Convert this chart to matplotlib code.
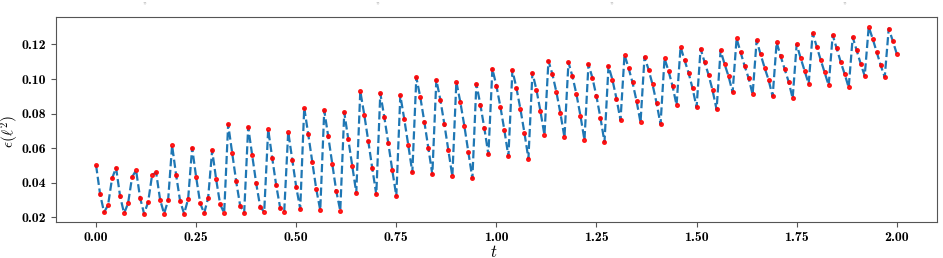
import numpy as np
import matplotlib
matplotlib.use("Agg")
import matplotlib.pyplot as plt

plt.rcParams['mathtext.fontset'] = 'cm'
plt.rcParams['font.family'] = 'cmb10'
plt.rcParams['axes.formatter.use_mathtext'] = True

# time steps (dt = 0.01) and the measured error
t = np.arange(201) * 0.01
eps = [
    0.0502, 0.0336, 0.0229, 0.0271, 0.0425, 0.0487, 0.0323, 0.0223, 0.0281, 0.0433,
    0.0472, 0.0313, 0.0221, 0.0287, 0.0445, 0.0460, 0.0302, 0.0221, 0.0298, 0.0616,
    0.0445, 0.0294, 0.0221, 0.0306, 0.0602, 0.0433, 0.0283, 0.0223, 0.0313, 0.0587,
    0.0420, 0.0275, 0.0225, 0.0738, 0.0573, 0.0408, 0.0267, 0.0227, 0.0722, 0.0558,
    0.0397, 0.0261, 0.0231, 0.0709, 0.0544, 0.0385, 0.0254, 0.0232, 0.0695, 0.0533,
    0.0375, 0.0250, 0.0834, 0.0681, 0.0521, 0.0364, 0.0242, 0.0818, 0.0668, 0.0508,
    0.0352, 0.0238, 0.0807, 0.0654, 0.0497, 0.0342, 0.0930, 0.0793, 0.0641, 0.0483,
    0.0333, 0.0917, 0.0780, 0.0629, 0.0472, 0.0323, 0.0905, 0.0766, 0.0616, 0.0460,
    0.1009, 0.0894, 0.0753, 0.0602, 0.0449, 0.0995, 0.0880, 0.0739, 0.0589, 0.0437,
    0.0984, 0.0865, 0.0728, 0.0577, 0.0425, 0.0972, 0.0851, 0.0714, 0.0564, 0.1059,
    0.0961, 0.0839, 0.0703, 0.0553, 0.1050, 0.0949, 0.0826, 0.0689, 0.0539, 0.1036,
    0.0938, 0.0814, 0.0676, 0.1105, 0.1027, 0.0923, 0.0801, 0.0662, 0.1096, 0.1015,
    0.0911, 0.0787, 0.0647, 0.1086, 0.1005, 0.0899, 0.0774, 0.0635, 0.1075, 0.0994,
    0.0886, 0.0762, 0.1140, 0.1065, 0.0980, 0.0874, 0.0749, 0.1128, 0.1055, 0.0969,
    0.0862, 0.0738, 0.1119, 0.1046, 0.0959, 0.0849, 0.1186, 0.1109, 0.1036, 0.0946,
    0.0836, 0.1175, 0.1098, 0.1024, 0.0934, 0.0824, 0.1165, 0.1086, 0.1015, 0.0923,
    0.1235, 0.1154, 0.1076, 0.1005, 0.0911, 0.1223, 0.1142, 0.1065, 0.0994, 0.0899,
    0.1212, 0.1132, 0.1057, 0.0984, 0.0888, 0.1200, 0.1121, 0.1047, 0.0972, 0.1265,
    0.1188, 0.1111, 0.1038, 0.0963, 0.1254, 0.1177, 0.1099, 0.1028, 0.0951, 0.1242,
    0.1165, 0.1088, 0.1018, 0.1302, 0.1232, 0.1155, 0.1079, 0.1011, 0.1292, 0.1221,
    0.1146,
]
xticks = [0.00, 0.25, 0.50, 0.75, 1.00, 1.25, 1.50, 1.75, 2.00]
yticks = [0.02, 0.04, 0.06, 0.08, 0.10, 0.12]

fig = plt.figure(figsize=(9.43, 2.58), dpi=100)
ax = fig.add_axes([0.0594, 0.1395, 0.934, 0.7955])

ax.plot(t, eps, '--', color='#1f77b4', lw=1.6, zorder=2)
ax.plot(t, eps, 'o', color='red', ms=2.6, alpha=0.85, zorder=3)

ax.set_xlim(-0.1, 2.1)
ax.set_ylim(0.0173, 0.136)
ax.set_xticks(xticks)
ax.set_xticklabels(['%.2f' % v for v in xticks])
ax.set_yticks(yticks)
ax.set_yticklabels(['%.2f' % v for v in yticks])
ax.tick_params(labelsize=10, color='#555555')
for s in ax.spines.values():
    s.set_color('#555555')

ax.set_xlabel(r'$t$', fontsize=12)
ax.xaxis.set_label_coords(0.497, -0.105)
ax.set_ylabel(r'$\epsilon(\ell^2)$', fontsize=11)
ax.yaxis.set_label_coords(-0.040, 0.44)

# faint marks left over at the top edge
for xf in [0.153, 0.401, 0.649, 0.896]:
    fig.text(xf, 0.982, "''", fontsize=6, color='#c8c8c8', ha='center', va='center')

fig.savefig('out.png', dpi=100)
